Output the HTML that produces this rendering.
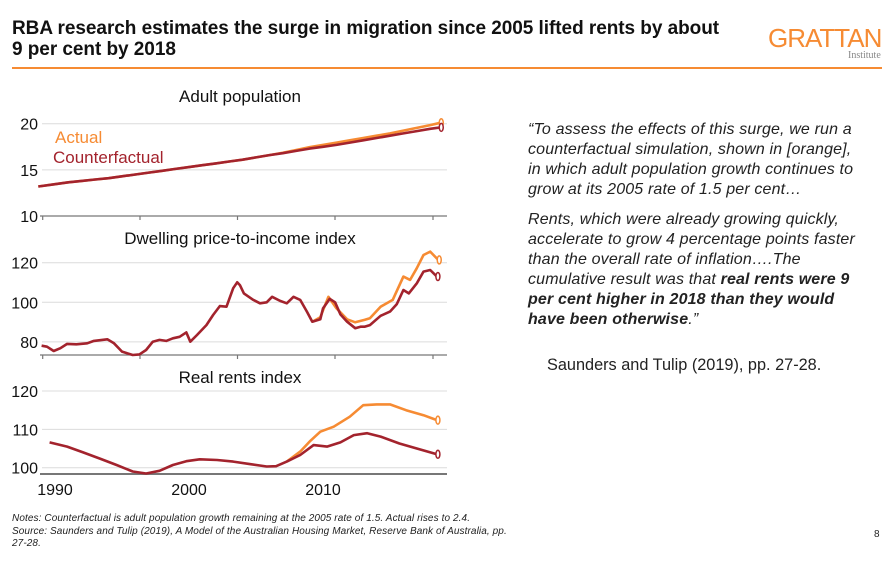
<!DOCTYPE html>
<html><head><meta charset="utf-8"><style>
body{margin:0;width:893px;height:561px;overflow:hidden;background:#fff;font-family:"Liberation Sans",Arial,sans-serif;position:relative}
.t{position:absolute;white-space:nowrap}
</style></head><body>
<div class="t" style="left:12px;top:18px;font-size:19px;font-weight:bold;line-height:21px;color:#111;letter-spacing:-0.05px">RBA research estimates the surge in migration since 2005 lifted rents by about<br>9 per cent by 2018</div>
<div class="t" style="left:768px;top:23px;font-size:26px;color:#F68B33;letter-spacing:-1px">GRATTAN</div>
<div class="t" style="left:848px;top:50px;font-size:10px;color:#888;font-family:'Liberation Serif',serif">Institute</div>
<div style="position:absolute;left:12px;top:67px;width:870px;height:2px;background:#F68B33"></div>

<svg id="c" width="470" height="505" style="position:absolute;left:0;top:0" xmlns="http://www.w3.org/2000/svg"></svg>

<div class="t" style="left:528px;top:120px;font-size:16px;font-style:italic;line-height:20px;color:#222;letter-spacing:0.15px">“To assess the effects of this surge, we run a<br>counterfactual simulation, shown in [orange],<br>in which adult population growth continues to<br>grow at its 2005 rate of 1.5 per cent…<div style="height:10px"></div>Rents, which were already growing quickly,<br>accelerate to grow 4 percentage points faster<br>than the overall rate of inflation….The<br>cumulative result was that <b>real rents were 9<br>per cent higher in 2018 than they would<br>have been otherwise</b>.”</div>
<div class="t" style="left:547px;top:356px;font-size:16.3px;color:#222">Saunders and Tulip (2019), pp. 27-28.</div>
<div class="t" style="left:12px;top:513px;font-size:10px;font-style:italic;line-height:12.5px;color:#222;letter-spacing:0.1px">Notes: Counterfactual is adult population growth remaining at the 2005 rate of 1.5. Actual rises to 2.4.<br>Source: Saunders and Tulip (2019), A Model of the Australian Housing Market, Reserve Bank of Australia, pp.<br>27-28.</div>
<div class="t" style="left:874px;top:529px;font-size:10px;color:#222">8</div>

<script>
const popYears=[1988.75,1990,1991,1992,1993,1994,1995,1996,1997,1998,1999,2000,2001,2002,2003,2004,2005,2006,2007,2008,2009,2010,2011,2012,2013,2014,2015,2016,2017,2018,2018.75];
const popActual=[13.2,13.45,13.65,13.8,13.95,14.1,14.3,14.5,14.7,14.9,15.1,15.3,15.5,15.7,15.9,16.1,16.35,16.6,16.85,17.15,17.45,17.7,17.95,18.2,18.45,18.7,18.95,19.25,19.55,19.85,20.1];
const popCounter=[13.2,13.45,13.65,13.8,13.95,14.1,14.3,14.5,14.7,14.9,15.1,15.3,15.5,15.7,15.9,16.1,16.35,16.6,16.8,17.05,17.3,17.5,17.7,17.95,18.2,18.45,18.7,18.95,19.2,19.45,19.6];
const ptiYears=[1989.0,1989.4,1989.9,1990.4,1990.9,1991.6,1992.4,1992.9,1993.9,1994.4,1995.0,1995.8,1996.3,1996.8,1997.3,1997.8,1998.3,1998.8,1999.3,1999.8,2000.1,2000.6,2001.3,2001.8,2002.3,2002.8,2003.3,2003.6,2003.8,2004.1,2004.8,2005.3,2005.8,2006.2,2006.8,2007.3,2007.8,2008.3,2008.8,2009.2,2009.8,2010.0,2010.5,2010.9,2011.3,2011.8,2012.4,2012.8,2013.1,2013.5,2014.3,2015.0,2015.5,2016.0,2016.4,2017.0,2017.5,2018.0,2018.5];
const ptiCounter=[78.1,77.6,75.4,76.8,79.0,78.8,79.3,80.5,81.3,79.3,75.1,73.4,73.7,75.9,80.1,81.0,80.5,81.8,82.6,84.8,80.1,83.5,88.5,93.6,98.1,97.8,107.1,110.1,108.7,104.5,101.2,99.5,100.0,102.8,100.7,99.5,102.8,101.2,95.3,90.2,91.4,96.9,101.7,100.0,93.9,90.2,86.9,87.7,87.7,88.5,93.2,95.3,99.0,106.2,104.5,109.6,115.5,116.3,113.0];
const ptiActYears=[2009.2,2009.8,2010.4,2011.0,2011.8,2012.4,2013.1,2013.5,2014.3,2015.2,2016.0,2016.5,2017.0,2017.5,2018.0,2018.6];
const ptiActual=[90.2,92.5,102.8,97.0,91.4,89.9,91.1,91.9,97.8,101.2,113.0,111.3,117.2,123.9,125.6,121.4];
const rentYears=[1989.6,1990.9,1992.1,1993.4,1994.6,1995.8,1996.8,1997.8,1998.8,1999.8,2000.8,2002.1,2003.3,2004.6,2005.8,2006.5,2007.3,2008.3,2009.3,2010.3,2011.3,2012.3,2013.3,2014.3,2015.7,2017.0,2018.5];
const rentCounter=[106.6,105.5,104.0,102.3,100.7,99.0,98.5,99.2,100.7,101.7,102.2,102.0,101.6,100.9,100.3,100.4,101.6,103.3,105.9,105.5,106.6,108.5,109.0,108.1,106.3,105.0,103.5];
const rentActYears=[2007.3,2008.3,2009.0,2009.8,2010.8,2012.0,2013.0,2014.0,2015.0,2016.2,2017.5,2018.5];
const rentActual=[101.6,104.2,106.8,109.4,110.7,113.3,116.3,116.5,116.5,115.0,113.7,112.4];
const popTicks=[10,15,20], ptiTicks=[80,100,120], rentTicks=[100,110,120], yearLabels=[1990,2000,2010];

const NS="http://www.w3.org/2000/svg", svg=document.getElementById('c');
const ORANGE="#F68B33", RED="#A3232D";
const x=yr=>55+(yr-1990)*13.4;
function mk(tag,a){const e=document.createElementNS(NS,tag);for(const k in a)e.setAttribute(k,a[k]);svg.appendChild(e);return e;}
function panel(name,y,ticks,axisY,title,titleY,tickMarks){
  ticks.forEach(t=>{
    const g=mk('line',{x1:42,x2:447,y1:y(t),y2:y(t),stroke:'#dcdcdc','stroke-width':1});
    
    
    const l=mk('text',{x:38,y:y(t)+6,'text-anchor':'end','font-size':16,fill:'#111'});l.textContent=t;
    
    
  });
  const ax=mk('line',{x1:40,x2:447,y1:axisY,y2:axisY,stroke:'#777','stroke-width':tickMarks?1.2:2});
  
  
  if(tickMarks)[42.7,140,237.5,335,433].forEach(p=>{mk('line',{x1:p,x2:p,y1:axisY,y2:axisY+4,stroke:'#777','stroke-width':1.2});});
  const tt=mk('text',{x:240,y:titleY,'text-anchor':'middle','font-size':17,fill:'#111'});tt.textContent=title;
  
  
}
function series(name,xs,vs,y,col){
  const d=xs.map((v,i)=>(i?'L':'M')+x(v).toFixed(1)+','+y(vs[i]).toFixed(1)).join('');
  const p=mk('path',{d:d,fill:'none',stroke:col,'stroke-width':2.6,'stroke-linejoin':'round'});
  
  
  const n=xs.length-1;
  const m=mk('ellipse',{cx:x(xs[n])+1,cy:y(vs[n]),rx:2,ry:4,fill:'#fff',stroke:col,'stroke-width':1.5});
  
  
}
const yPop=v=>216-(v-10)*9.23, yPti=v=>302.3-(v-100)*1.98, yRent=v=>391-(v-120)*3.835;
panel('population',yPop,popTicks,216,'Adult population',102,true);
panel('price-income',yPti,ptiTicks,355,'Dwelling price-to-income index',244,true);
panel('rents',yRent,rentTicks,474,'Real rents index',383,false);
series('population-actual-line',popYears,popActual,yPop,ORANGE);
series('population-counterfactual-line',popYears,popCounter,yPop,RED);
series('price-income-actual-line',ptiActYears,ptiActual,yPti,ORANGE);
series('price-income-counterfactual-line',ptiYears,ptiCounter,yPti,RED);
series('rents-actual-line',rentActYears,rentActual,yRent,ORANGE);
series('rents-counterfactual-line',rentYears,rentCounter,yRent,RED);
yearLabels.forEach(yr=>{const t=mk('text',{x:x(yr),y:495,'text-anchor':'middle','font-size':16,fill:'#111'});t.textContent=yr;
  
  });
const la=mk('text',{x:55,y:143,'font-size':17,fill:ORANGE});la.textContent='Actual';


const lc=mk('text',{x:53,y:163,'font-size':17,fill:RED});lc.textContent='Counterfactual';


</script>
</body></html>
